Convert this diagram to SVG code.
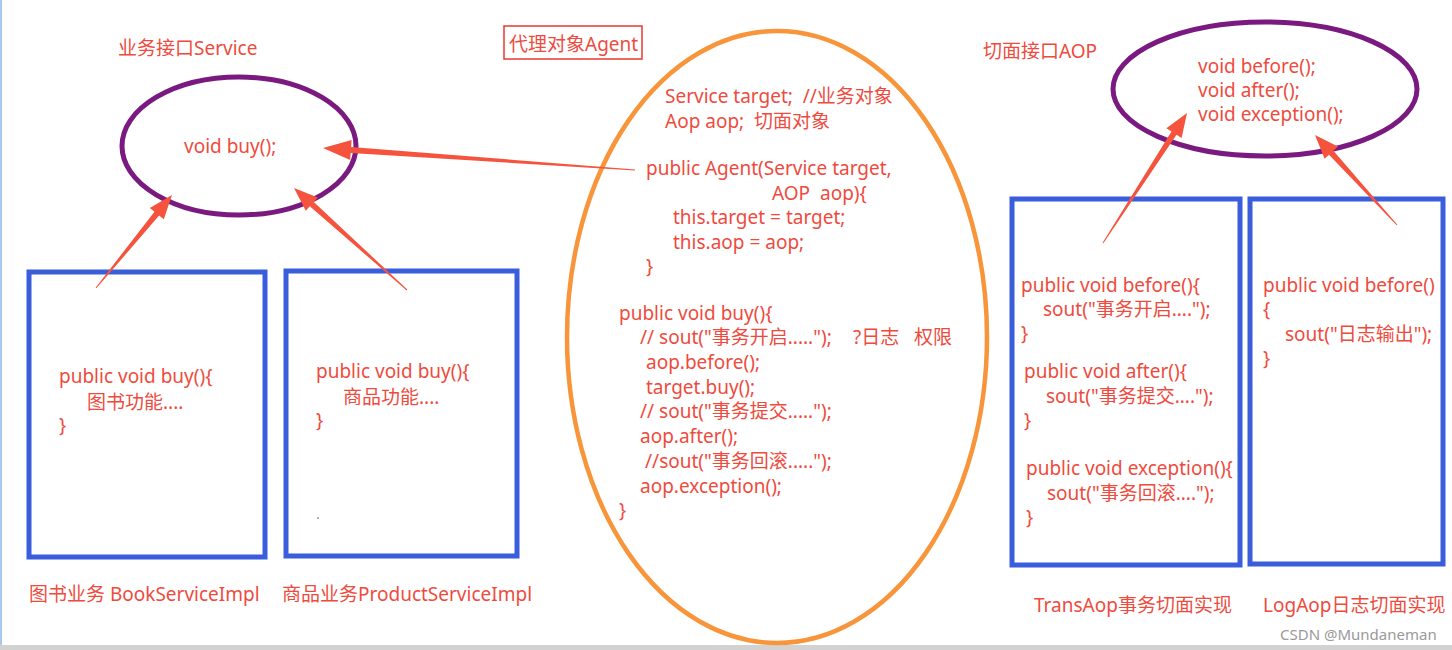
<svg xmlns="http://www.w3.org/2000/svg" width="1452" height="650" viewBox="0 0 1452 650">
<style>
text{font-family:"Noto Sans","Noto Sans CJK SC",sans-serif;font-size:19px;fill:#ee4b3e;white-space:pre}
.purple{fill:none;stroke:#7a1a80;stroke-width:5}
.box{fill:none;stroke:#3a5ddb;stroke-width:5}
.arrow{fill:#f5533d;stroke:none}
</style>
<rect x="0" y="0" width="1452" height="650" fill="#ffffff"/>
<line x1="1" y1="0" x2="1" y2="645" stroke="#8ab8e6" stroke-width="1.5"/>
<rect x="0" y="645" width="1452" height="5" fill="#d2d2d2"/>

<g id="service">
<text x="118" y="55">业务接口Service</text>
<ellipse class="purple" cx="239" cy="146" rx="117" ry="69"/>
<text x="184" y="153">void buy();</text>
</g>

<g id="book">
<rect class="box" x="29" y="272" width="236" height="285"/>
<text x="59" y="383">public void buy(){</text>
<text x="87" y="409">图书功能....</text>
<text x="59" y="432">}</text>
<text x="29" y="601">图书业务 BookServiceImpl</text>
</g>

<g id="product">
<rect class="box" x="286" y="271" width="231" height="285"/>
<text x="316" y="378">public void buy(){</text>
<text x="343" y="404">商品功能....</text>
<text x="316" y="427">}</text>
<circle cx="318" cy="518" r="0.8" fill="#555"/>
<text x="282" y="601">商品业务ProductServiceImpl</text>
</g>

<g id="agent">
<rect x="504" y="26" width="138" height="33" fill="none" stroke="#e8382e" stroke-width="1.5"/>
<text x="509" y="51">代理对象Agent</text>
<ellipse cx="777" cy="337" rx="210" ry="306" fill="none" stroke="#f8953a" stroke-width="4.5"/>
<text x="665" y="103">Service target;  //业务对象</text>
<text x="665" y="128">Aop aop;  切面对象</text>
<text x="646" y="175">public Agent(Service target,</text>
<text x="772" y="200">AOP  aop){</text>
<text x="673" y="224">this.target = target;</text>
<text x="673" y="249">this.aop = aop;</text>
<text x="646" y="273">}</text>
<text x="619" y="320">public void buy(){</text>
<text x="640" y="344">// sout("事务开启.....");</text>
<text x="853" y="344">?日志</text>
<text x="914" y="344">权限</text>
<text x="646" y="369">aop.before();</text>
<text x="646" y="394">target.buy();</text>
<text x="640" y="418">// sout("事务提交.....");</text>
<text x="640" y="443">aop.after();</text>
<text x="645" y="468">//sout("事务回滚.....");</text>
<text x="640" y="493">aop.exception();</text>
<text x="619" y="517">}</text>
</g>

<g id="aop">
<text x="983" y="58">切面接口AOP</text>
<ellipse class="purple" cx="1265" cy="89" rx="152" ry="67"/>
<text x="1198" y="73">void before();</text>
<text x="1198" y="97">void after();</text>
<text x="1198" y="121">void exception();</text>
</g>

<g id="transaop">
<rect class="box" x="1012" y="199" width="228" height="366"/>
<text x="1021" y="292">public void before(){</text>
<text x="1043" y="316">sout("事务开启....");</text>
<text x="1021" y="340">}</text>
<text x="1024" y="378">public void after(){</text>
<text x="1046" y="403">sout("事务提交....");</text>
<text x="1024" y="427">}</text>
<text x="1026" y="475">public void exception(){</text>
<text x="1047" y="500">sout("事务回滚....");</text>
<text x="1026" y="524">}</text>
<text x="1034" y="612">TransAop事务切面实现</text>
</g>

<g id="logaop">
<rect class="box" x="1250" y="199" width="193" height="365"/>
<text x="1263" y="292">public void before()</text>
<text x="1263" y="316">{</text>
<text x="1285" y="341">sout("日志输出");</text>
<text x="1263" y="365">}</text>
<text x="1263" y="612">LogAop日志切面实现</text>
</g>

<text x="1280" y="640" style="fill:#9a9a9a;font-size:15px">CSDN @Mundaneman</text>

<g id="connectors">
<polygon class="arrow" points="635.04,169.5 351.1,147.0 351.6,140.0 323,148 350.2,160.0 350.7,153.0 634.96,170.5"/>
<polygon class="arrow" points="96.39,288.32 159.1,215.5 163.8,219.3 172,195 149.8,207.9 154.5,211.7 95.61,287.68"/>
<polygon class="arrow" points="407.3,289.6 313.8,201.9 317.8,197.4 294,188 305.8,210.8 309.8,206.3 406.7,290.4"/>
<polygon class="arrow" points="1103.4,243.3 1176.5,134.8 1181.6,138.1 1187,113 1166.4,128.3 1171.5,131.6 1102.6,242.7"/>
<polygon class="arrow" points="1397.4,224.7 1333.4,150.7 1337.9,146.6 1315,135 1324.6,158.8 1329.0,154.7 1396.6,225.3"/>
</g>
</svg>
